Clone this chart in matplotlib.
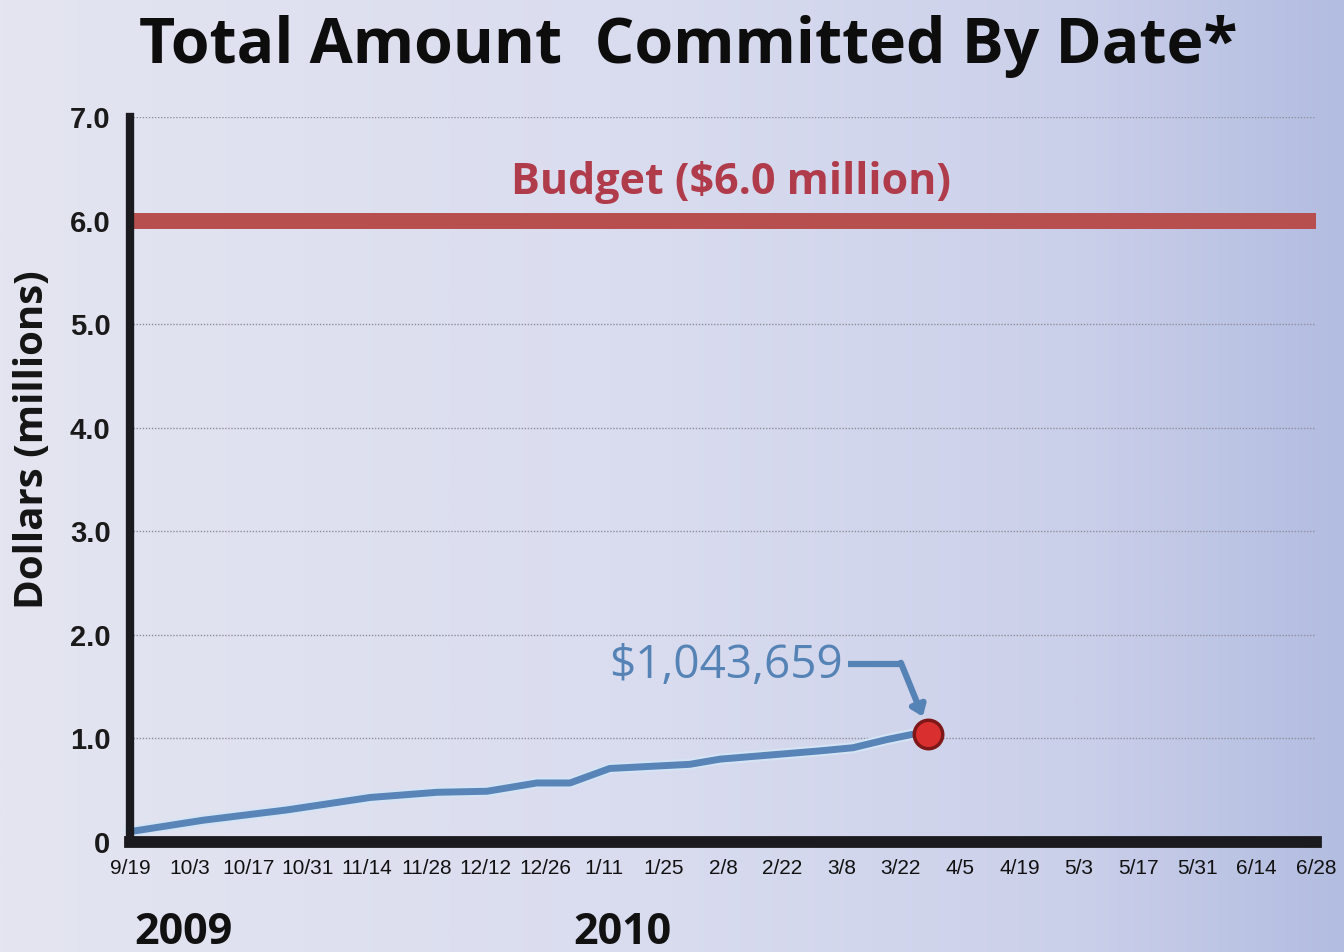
import numpy as np
import matplotlib
matplotlib.use("Agg")
from matplotlib import pyplot as plt
from matplotlib.colors import LinearSegmentedColormap
import matplotlib.patheffects as pe

# Data
DATE_LABELS = ["9/19", "10/3", "10/17", "10/31", "11/14", "11/28", "12/12", "12/26",
               "1/11", "1/25", "2/8", "2/22", "3/8", "3/22", "4/5", "4/19", "5/3",
               "5/17", "5/31", "6/14", "6/28"]
YEARS = ["2009", "2010"]
# x in tick-index units (0 = 9/19, 20 = 6/28), y in millions of dollars
COMMIT_X = [0, 1.23, 2.65, 4.05, 5.18, 6.02, 6.86, 7.42, 8.09, 9.44, 9.95,
            11.64, 12.19, 12.77, 13.2, 13.46]
COMMIT_Y = [0.10, 0.21, 0.31, 0.43, 0.48, 0.49, 0.57, 0.57, 0.71, 0.75, 0.80,
            0.88, 0.91, 0.99, 1.04, 1.044]
LATEST_AMOUNT = 1043659
BUDGET = 6.0
Y_TICKS = [0, 1, 2, 3, 4, 5, 6, 7]

# Colors
COLOR_LINE = "#5884b8"
COLOR_HALO = "#d4e4f5"
COLOR_BUDGET = "#b84f4f"
COLOR_BUDGET_TXT = "#b03b4a"
COLOR_NOTE = "#5683b5"
COLOR_AXIS = "#1b1b1f"

TITLE_FONT = ["Open Sans", "DejaVu Sans"]
NARROW_FONT = ["Liberation Sans Narrow", "Liberation Sans", "DejaVu Sans"]

fig = plt.figure(figsize=(13.44, 9.52), dpi=100)

# background gradient
bg = fig.add_axes([0, 0, 1, 1], zorder=0)
cmap = LinearSegmentedColormap.from_list(
    "bg", [(0, "#e4e5f1"), (0.5, "#d9dcef"), (0.8, "#cbd0ea"), (1.0, "#b3bde1")])
bg.imshow(np.linspace(0, 1, 512).reshape(1, -1), aspect="auto", cmap=cmap,
          extent=[0, 1, 0, 1])
bg.axis("off")

ax = fig.add_axes([130/1344, 1-842/952, (1316-130)/1344, (842-117)/952], zorder=1)
ax.patch.set_alpha(0)
ax.set_xlim(0, 20)
ax.set_ylim(0, 7)

for s in ["top", "right"]:
    ax.spines[s].set_visible(False)
ax.spines["left"].set_linewidth(6)
ax.spines["bottom"].set_linewidth(8.5)
ax.spines["left"].set_color(COLOR_AXIS)
ax.spines["bottom"].set_color(COLOR_AXIS)
ax.spines["left"].set_zorder(5)
ax.spines["bottom"].set_zorder(5)

ax.set_yticks(Y_TICKS)
ax.set_yticklabels(["0"] + ["%.1f" % v for v in Y_TICKS[1:]],
                   family=NARROW_FONT, weight="bold", fontsize=21, color="#1a1a1a")
ax.set_xticks(range(len(DATE_LABELS)))
ax.set_xticklabels(DATE_LABELS, family=NARROW_FONT, fontsize=15, color="#111111")
ax.tick_params(axis="both", length=0)
ax.tick_params(axis="y", pad=14)
ax.tick_params(axis="x", pad=12)

ax.grid(axis="y", color="#8e8e9c", lw=1, linestyle=(0, (1, 1.2)))
ax.set_axisbelow(True)

# budget line
ax.plot([0, 20], [BUDGET, BUDGET], color=COLOR_BUDGET, lw=11.5, solid_capstyle="butt",
        zorder=3, clip_on=False)
ax.text(10.13, 6.37, "Budget ($%.1f million)" % BUDGET, ha="center", va="center",
        family=TITLE_FONT, weight="bold", fontsize=31, color=COLOR_BUDGET_TXT)

# committed line
ax.plot(COMMIT_X, COMMIT_Y, color=COLOR_LINE, lw=5, solid_joinstyle="round",
        solid_capstyle="round", zorder=4, clip_on=False,
        path_effects=[pe.Stroke(linewidth=8, foreground=COLOR_HALO), pe.Normal()])
ax.scatter([COMMIT_X[-1]], [COMMIT_Y[-1]], s=420, color="#d9302f", edgecolor="#7e1818",
           linewidth=2.5, zorder=6)

# annotation
ax.text(10.05, 1.70, "${:,}".format(LATEST_AMOUNT), ha="center", va="center",
        family=TITLE_FONT, weight="medium", fontsize=33, color=COLOR_NOTE)
ax.plot([12.11, 13.02], [1.72, 1.72], color=COLOR_NOTE, lw=4.5, zorder=4,
        solid_capstyle="butt")
ax.annotate("", xy=(13.37, 1.21), xytext=(13.0, 1.73),
            arrowprops=dict(arrowstyle="-|>,head_length=0.6,head_width=0.45",
                            color=COLOR_NOTE, lw=4.5, shrinkA=0, shrinkB=0), zorder=4)

# titles and labels
fig.text(688/1344, 1-46/952, "Total Amount  Committed By Date*", ha="center",
         va="center", family=TITLE_FONT, weight="bold", fontsize=45, color="#0d0d0d")
fig.text(33/1344, 1-440/952, "Dollars (millions)", ha="center", va="center",
         rotation=90, family=TITLE_FONT, weight="bold", fontsize=29, color="#141414")
fig.text(183/1344, 1-932/952, YEARS[0], ha="center", va="center",
         family=TITLE_FONT, weight="bold", fontsize=31, color="#111111")
fig.text(622/1344, 1-932/952, YEARS[1], ha="center", va="center",
         family=TITLE_FONT, weight="bold", fontsize=31, color="#111111")

fig.savefig("out.png", dpi=100)
